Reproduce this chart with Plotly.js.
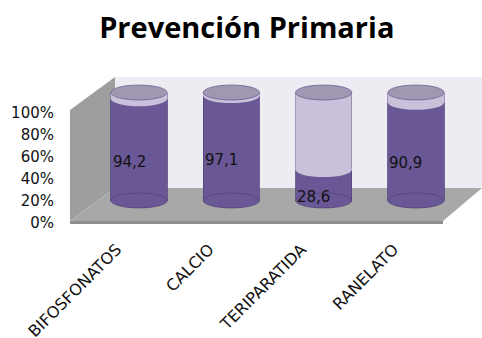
<!DOCTYPE html>
<html>
<head>
<meta charset="utf-8">
<script src="https://cdn.plot.ly/plotly-3.0.1.min.js"></script>
<style>html,body{margin:0;padding:0;background:#fff;}#chart{width:482px;height:338px;}</style>
</head>
<body>
<div id="chart"></div>
<script>
// ---- data ----
const categories = ["BIFOSFONATOS", "CALCIO", "TERIPARATIDA", "RANELATO"];
const primaryValues = [94.2, 97.1, 28.6, 90.9];
const restValues = [5.8, 2.9, 71.4, 9.1];
const valueLabels = ["94,2", "97,1", "28,6", "90,9"];
const yTickValues = [0, 20, 40, 60, 80, 100];
const yTickText = ["0%", "20%", "40%", "60%", "80%", "100%"];

// ---- styling / geometry ----
const W = 482, H = 338;
const DARK = '#6a5795', LIGHT = '#c9c0da', TOP = '#a097b3', EDGE = '#55437a';
const px = x => x / W, py = y => 1 - y / H;
const idx = categories.map((c, i) => i);
const barW = 0.61;
const ellH = 6.9; // half height of cylinder ellipse in data units

function pathP(pts) { return 'M' + pts.map(p => px(p[0]) + ',' + py(p[1])).join('L') + 'Z'; }

const shapes = [];
// back wall, left wall, floor
shapes.push({type:'path', xref:'paper', yref:'paper', layer:'below', path: pathP([[115,77],[482,77],[482,188],[115,188]]), fillcolor:'#eeecf3', line:{width:0}});
shapes.push({type:'path', xref:'paper', yref:'paper', layer:'below', path: pathP([[70,110],[115,77],[115,188],[70,221]]), fillcolor:'#9e9e9e', line:{width:0}});
shapes.push({type:'path', xref:'paper', yref:'paper', layer:'below', path: pathP([[70,221],[443,221],[482,188],[115,188]]), fillcolor:'#a8a8a8', line:{width:0}});
shapes.push({type:'path', xref:'paper', yref:'paper', layer:'below', path: pathP([[70,221],[443,221],[443,224],[70,224]]), fillcolor:'#8e8e8e', line:{width:0}});

// cylinder ellipses drawn from the data
idx.forEach(i => {
  shapes.push({type:'circle', xref:'x', yref:'y', layer:'above', x0:i-barW/2, x1:i+barW/2, y0:-ellH, y1:ellH, fillcolor:DARK, line:{color:EDGE, width:0.8}});
  shapes.push({type:'circle', xref:'x', yref:'y', layer:'above', x0:i-barW/2, x1:i+barW/2, y0:primaryValues[i]-ellH, y1:primaryValues[i]+ellH, fillcolor:LIGHT, line:{width:0}});
  const top = primaryValues[i] + restValues[i];
  shapes.push({type:'circle', xref:'x', yref:'y', layer:'above', x0:i-barW/2, x1:i+barW/2, y0:top-ellH, y1:top+ellH, fillcolor:TOP, line:{color:'#6f6090', width:0.8}});
});

const annotations = idx.map(i => ({
  x: i, y: primaryValues[i] / 2, xref:'x', yref:'y', text: valueLabels[i], showarrow:false,
  xshift:-10, yshift:-12, font:{family:'DejaVu Sans', size:15, color:'#111'}
}));

const traces = [
  {type:'bar', x: idx, y: primaryValues, width: barW, marker:{color:DARK, line:{color:EDGE, width:0.8}}, hoverinfo:'skip', showlegend:false},
  {type:'bar', x: idx, y: restValues, width: barW, marker:{color:LIGHT, line:{color:'#8f82a8', width:0.8}}, hoverinfo:'skip', showlegend:false},
  {type:'scatter', x:[null], y:[null], xaxis:'x2', yaxis:'y2', hoverinfo:'skip', showlegend:false}
];

const layout = {
  width: W, height: H,
  margin:{l:0, r:0, t:0, b:0, pad:0},
  paper_bgcolor:'#ffffff', plot_bgcolor:'rgba(0,0,0,0)',
  barmode:'stack',
  showlegend:false,
  title:{text:'<b>Prevención Primaria</b>', x:0.512, xanchor:'center', y:1-38/H, yanchor:'bottom', yref:'container', font:{family:'Open Sans', size:29, color:'#000'}},
  xaxis:{domain:[0,1], range:[-139/92.33, (W-139)/92.33], visible:false, fixedrange:true},
  yaxis:{domain:[0,1], range:[(200.5-H)/1.08, 200.5/1.08], visible:false, fixedrange:true},
  xaxis2:{overlaying:'x', range:[-139/92.33 + 0.24, (W-139)/92.33 + 0.24], anchor:'free', position:py(236), side:'bottom',
          tickmode:'array', tickvals: idx, ticktext: categories, tickangle:-45, showline:false, showgrid:false, zeroline:false, ticks:'',
          tickfont:{family:'DejaVu Sans', size:16, color:'#111'}, fixedrange:true},
  yaxis2:{domain:[py(223), py(113)], range:[0,100], anchor:'free', position:px(54), side:'left',
          tickmode:'array', tickvals: yTickValues, ticktext: yTickText, showline:false, showgrid:false, zeroline:false, ticks:'',
          tickfont:{family:'DejaVu Sans', size:15, color:'#111'}, fixedrange:true},
  shapes: shapes,
  annotations: annotations
};

Plotly.newPlot('chart', traces, layout, {staticPlot:true, displayModeBar:false});
</script>
</body>
</html>
